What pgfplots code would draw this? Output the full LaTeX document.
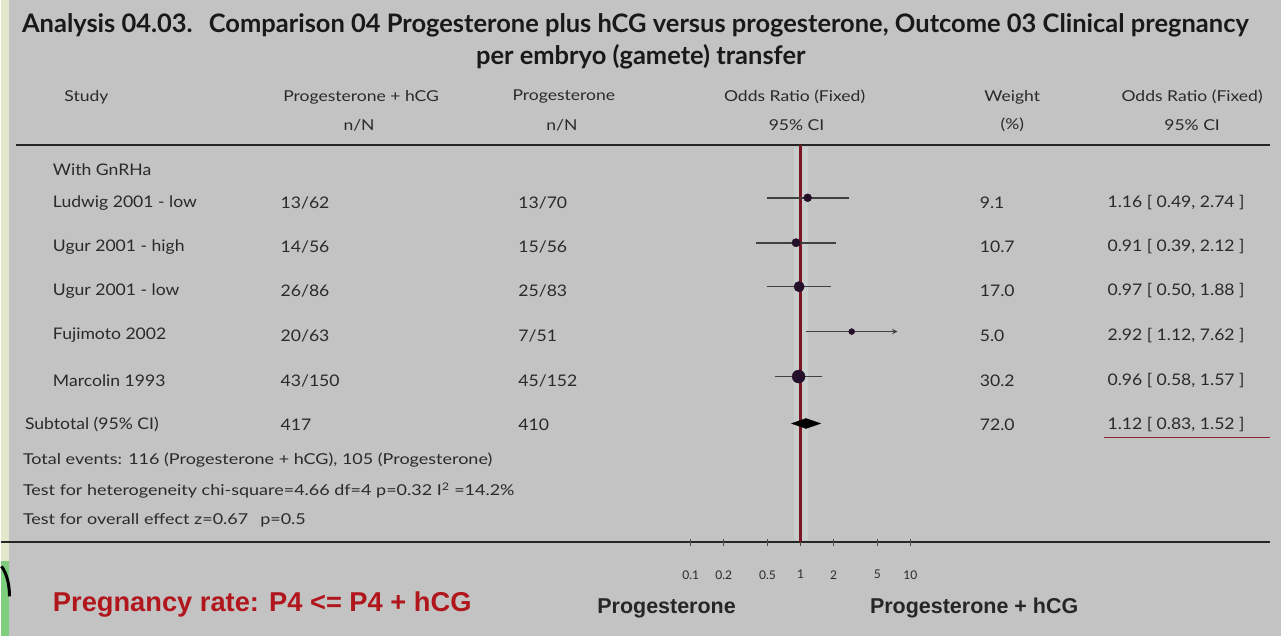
\documentclass[border=0pt]{standalone}
\usepackage{pgfplots}
\pgfplotsset{compat=1.18}
\usepackage{fontspec}
\setmainfont{Lato}
\newfontfamily\arialf{Liberation Sans}
\definecolor{bgg}{HTML}{C3C3C3}
\definecolor{strip}{HTML}{E3E8CC}
\definecolor{dred}{HTML}{7A1525}
\definecolor{uline}{HTML}{8E2434}
\definecolor{halo}{HTML}{CBD2D0}
\definecolor{mk}{HTML}{25102A}
\definecolor{tx}{HTML}{2A2A2A}
\definecolor{pred}{HTML}{B0161C}
\newcommand{\sx}[1]{\scalebox{1.1}[1]{#1}}
\newcommand{\hx}[1]{\scalebox{1.17}[1]{#1}}
\newcommand{\fx}[1]{\scalebox{1.2}[1]{#1}}
\begin{document}
\begin{tikzpicture}[x=1pt,y=1pt]
% background
\fill[strip] (0,0) rectangle (1281,637);
\fill[bgg] (8,0) rectangle (1281,637);
\fill[green!45!gray!70] (0,0) rectangle (8,75);
\draw[black,line width=3pt] (0,70) .. controls (6,62) and (8,50) .. (8,40);
% title
\node[anchor=west,font=\fontsize{25.5}{28}\selectfont\bfseries,text=black!90] at (17,612) {Analysis 04.03.\hspace{16pt}Comparison 04 Progesterone plus hCG versus progesterone, Outcome 03 Clinical pregnancy};
\node[font=\fontsize{25.5}{28}\selectfont\bfseries,text=black!90] at (640,580) {per embryo (gamete) transfer};
% headers
\begin{scope}[font=\fontsize{15}{17}\selectfont,text=tx]
\node at (85,540) {\hx{Study}};
\node at (360,540) {\hx{Progesterone + hCG}};
\node at (358,512) {\hx{n/N}};
\node at (563,540) {\hx{Progesterone}};
\node at (561,512) {\hx{n/N}};
\node at (794,540) {\hx{Odds Ratio (Fixed)}};
\node at (796,512) {\hx{95\% CI}};
\node at (1012,540) {\hx{Weight}};
\node at (1012,512) {\hx{(\%)}};
\node at (1192,540) {\hx{Odds Ratio (Fixed)}};
\node at (1192,512) {\hx{95\% CI}};
\end{scope}
% lines
\draw[black!85,line width=2pt] (15,492) -- (1270,492);
\draw[black!85,line width=2pt] (0,94) -- (1270,94);
\draw[uline,line width=1.8pt] (1104,199) -- (1270,199);
% rows
\begin{scope}[font=\fontsize{16}{18}\selectfont,text=tx]
\node[anchor=west] at (48,467) {\sx{With GnRHa}};
\node[anchor=west] at (48,434) {\sx{Ludwig 2001 - low}};
\node[anchor=west] at (48,390) {\sx{Ugur 2001 - high}};
\node[anchor=west] at (48,346) {\sx{Ugur 2001 - low}};
\node[anchor=west] at (48,301) {\sx{Fujimoto 2002}};
\node[anchor=west] at (48,256) {\sx{Marcolin 1993}};
\node[anchor=west] at (20,212) {\sx{Subtotal (95\% CI)}};
\node[anchor=west] at (276,434) {\sx{13/62}};
\node[anchor=west] at (276,390) {\sx{14/56}};
\node[anchor=west] at (276,346) {\sx{26/86}};
\node[anchor=west] at (276,301) {\sx{20/63}};
\node[anchor=west] at (276,256) {\sx{43/150}};
\node[anchor=west] at (276,212) {\sx{417}};
\node[anchor=west] at (514,434) {\sx{13/70}};
\node[anchor=west] at (514,390) {\sx{15/56}};
\node[anchor=west] at (514,346) {\sx{25/83}};
\node[anchor=west] at (514,301) {\sx{7/51}};
\node[anchor=west] at (514,256) {\sx{45/152}};
\node[anchor=west] at (514,212) {\sx{410}};
\node[anchor=west] at (976,434) {\sx{9.1}};
\node[anchor=west] at (976,390) {\sx{10.7}};
\node[anchor=west] at (976,346) {\sx{17.0}};
\node[anchor=west] at (976,301) {\sx{5.0}};
\node[anchor=west] at (976,256) {\sx{30.2}};
\node[anchor=west] at (976,212) {\sx{72.0}};
\node[anchor=east] at (1248,434) {\sx{1.16 [ 0.49, 2.74 ]}};
\node[anchor=east] at (1248,390) {\sx{0.91 [ 0.39, 2.12 ]}};
\node[anchor=east] at (1248,346) {\sx{0.97 [ 0.50, 1.88 ]}};
\node[anchor=east] at (1248,301) {\sx{2.92 [ 1.12, 7.62 ]}};
\node[anchor=east] at (1248,256) {\sx{0.96 [ 0.58, 1.57 ]}};
\node[anchor=east] at (1248,212) {\sx{1.12 [ 0.83, 1.52 ]}};
\end{scope}
\begin{scope}[font=\fontsize{15}{17}\selectfont,text=tx]
\node[anchor=west] at (18,176) {\fx{Total events: 116 (Progesterone + hCG), 105 (Progesterone)}};
\node[anchor=west] at (18,146) {\fx{Test for heterogeneity chi-square=4.66 df=4 p=0.32 I\textsuperscript{2} =14.2\%}};
\node[anchor=west] at (18,116) {\fx{Test for overall effect z=0.67\hspace{10pt}p=0.5}};
\end{scope}
% bottom labels
\node[anchor=west,font=\arialf\fontsize{27.3}{30}\selectfont\bfseries,text=pred] at (48,32) {Pregnancy rate: P4 <= P4 + hCG};
\node[anchor=west,font=\arialf\fontsize{21.5}{24}\selectfont\bfseries,text=black!85] at (593,28) {Progesterone};
\node[anchor=west,font=\arialf\fontsize{21.5}{24}\selectfont\bfseries,text=black!85] at (866,28) {Progesterone + hCG};
% forest plot
\begin{axis}[at={(690pt,94pt)},anchor=south west,scale only axis,
  width=220pt,height=398pt,xmode=log,xmin=0.1,xmax=10,ymin=94,ymax=492,
  axis x line*=bottom, axis y line=none, x axis line style={draw=none},
  xtick={0.1,0.2,0.5,1,2,5,10}, xticklabels={0.1,0.2,0.5,1,2,5,10},
  tick align=center, major tick length=7pt, tick style={black!70,line width=0.8pt},
  xticklabel style={font=\fontsize{12}{13}\selectfont, text=tx, yshift=-21pt},
  clip=false]
\addplot[halo,line width=14pt,opacity=0.8] coordinates {(1,96) (1,490)};
\addplot[dred,line width=2.4pt] coordinates {(1,94) (1,492)};
% CIs
\addplot[black!75,line width=1.6pt] coordinates {(0.49,439) (2.74,439)};
\addplot[black!75,line width=1.6pt] coordinates {(0.39,394) (2.12,394)};
\addplot[black!75,line width=1.6pt] coordinates {(0.50,350) (1.88,350)};
\addplot[black!75,line width=1.4pt,-stealth] coordinates {(1.12,305) (7.62,305)};
\addplot[black!75,line width=1.6pt] coordinates {(0.58,260) (1.57,260)};
% point estimates
\addplot[only marks,mark=*,mark size=4pt,mk] coordinates {(1.16,439)};
\addplot[only marks,mark=*,mark size=4.2pt,mk] coordinates {(0.91,394)};
\addplot[only marks,mark=*,mark size=5.2pt,mk] coordinates {(0.97,350)};
\addplot[only marks,mark=*,mark size=3pt,mk] coordinates {(2.92,305)};
\addplot[only marks,mark=*,mark size=6.5pt,mk] coordinates {(0.96,260)};
% subtotal diamond
\addplot[fill=black,draw=black] coordinates {(0.83,213) (1.12,218) (1.52,213) (1.12,208)} -- cycle;
\end{axis}
\end{tikzpicture}
\end{document}
